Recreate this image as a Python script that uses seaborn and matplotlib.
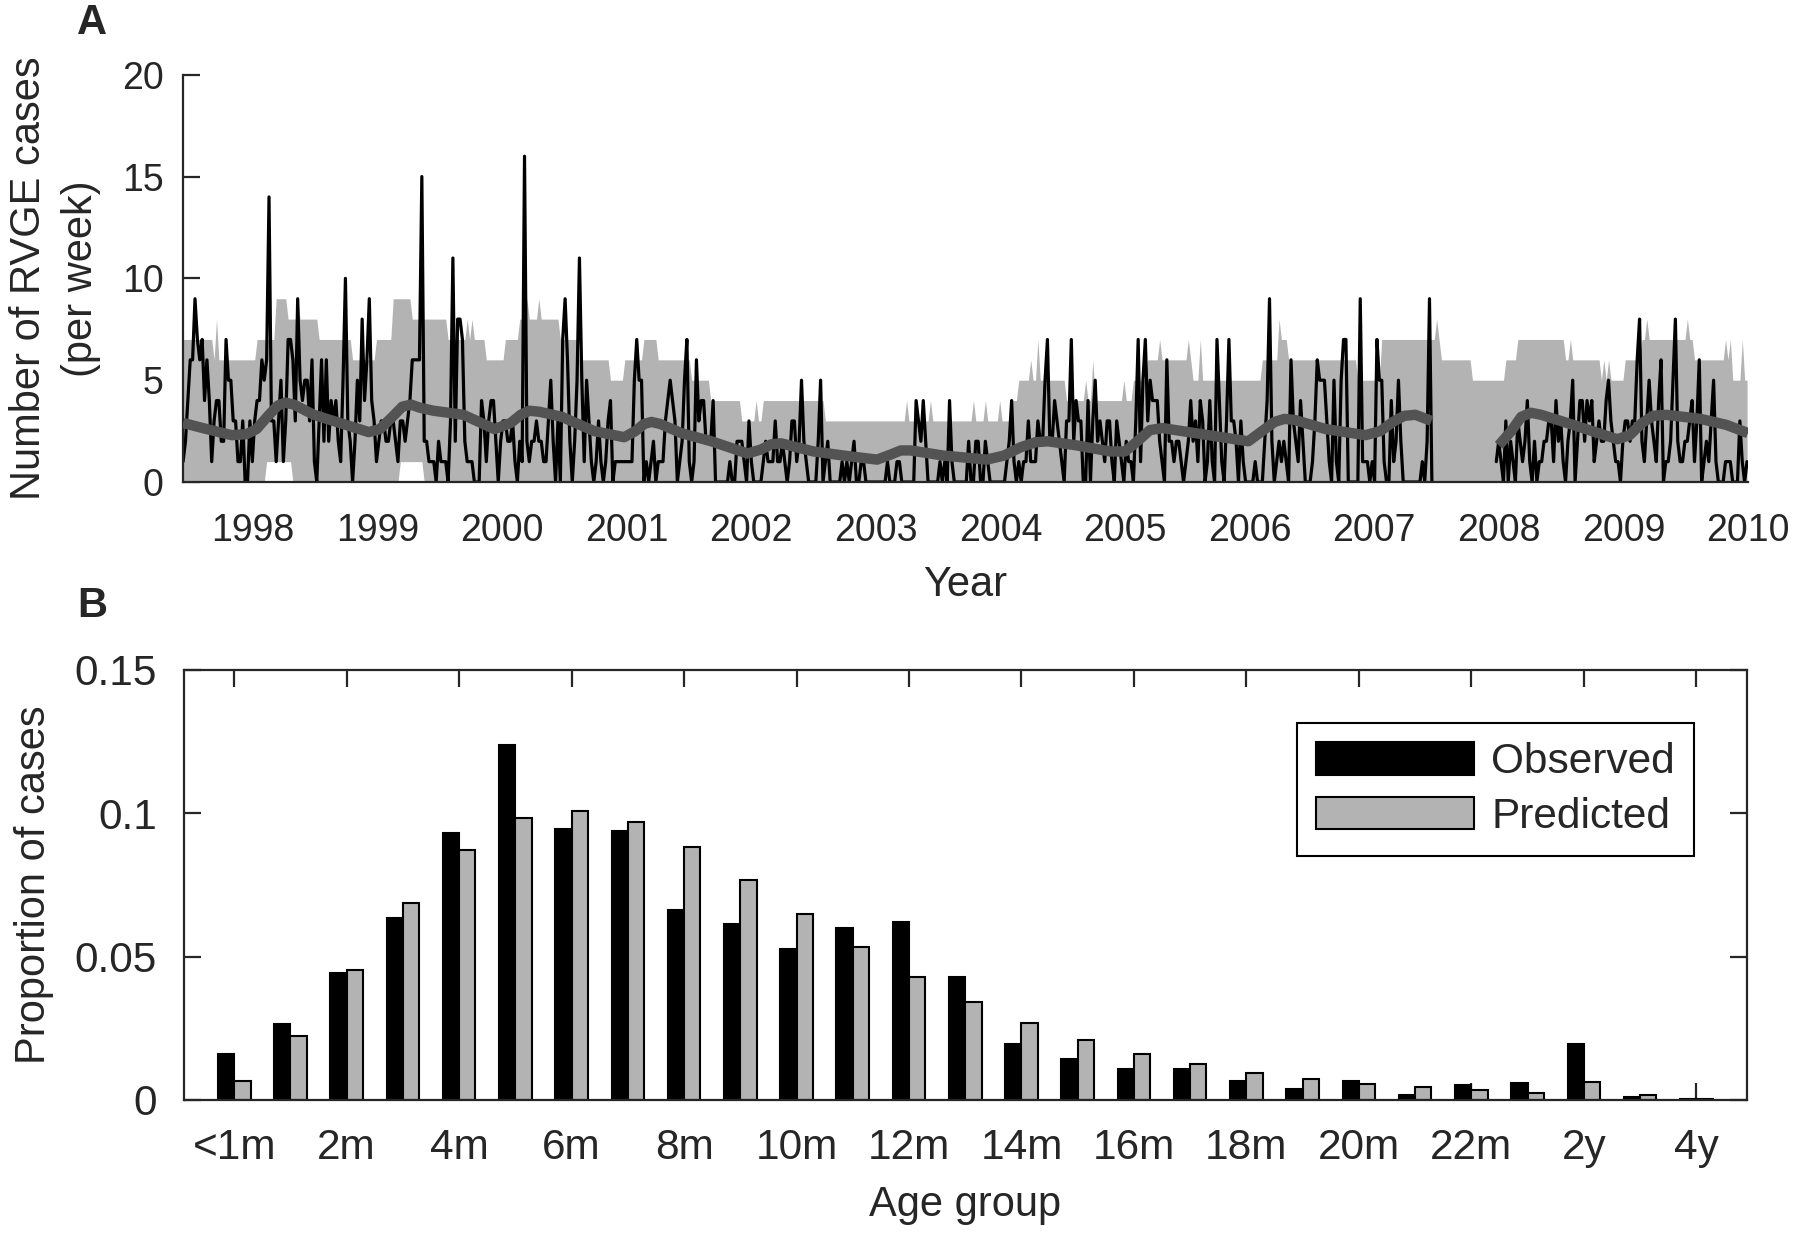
import numpy as np
import pandas as pd
import seaborn as sns
import matplotlib.pyplot as plt
from matplotlib.patches import Patch

# ---------------- Panel A data (weekly RVGE counts) ----------------
WEEKS_PER_YEAR = 52.18
obs1_start = 1997.44          # first week of first observed stretch
obs2_start = 2007.98          # first week after the data gap

obs_seg1 = [
    1, 2, 4, 6, 6, 9, 7, 6, 7, 4, 6, 4, 1, 3, 4, 4, 2, 2, 7, 5,
    5, 3, 3, 1, 1, 3, 0, 0, 3, 1, 3, 4, 4, 6, 5, 6, 14, 3, 3, 1,
    3, 5, 1, 3, 7, 7, 6, 3, 9, 5, 4, 5, 5, 3, 6, 1, 0, 3, 6, 2,
    6, 2, 4, 3, 4, 2, 1, 5, 10, 3, 2, 0, 2, 5, 3, 8, 4, 6, 9, 4,
    3, 1, 2, 3, 3, 2, 2, 3, 3, 2, 1, 3, 3, 2, 3, 4, 6, 6, 6, 6,
    15, 2, 2, 1, 1, 1, 0, 2, 1, 1, 1, 0, 3, 11, 2, 8, 8, 7, 2, 1,
    1, 1, 0, 0, 0, 4, 3, 1, 3, 4, 4, 2, 0,
    2, 3, 3, 2, 2, 3, 1, 0, 2, 1, 16, 2, 1, 2, 2, 3, 2, 2, 1, 1,
    3, 5, 2, 0, 3, 0, 7, 9, 6, 2, 0, 2, 5, 11, 5, 1, 5, 3, 1, 0,
    1, 3, 1, 0, 1, 3, 4, 0, 1, 1, 1, 1, 1, 1, 1, 1, 5, 7, 5, 5,
    0, 1, 0, 1, 2, 0, 1, 1, 1, 3, 4, 5, 4, 3, 0, 1, 2, 5, 7, 1,
    0, 1, 6, 3, 4, 4, 2, 2, 2, 4, 0, 0, 0, 0, 0, 0, 1, 0, 0, 2,
    2, 2, 1, 0, 3, 1, 0, 0, 0, 0, 1, 2, 1, 1, 1, 3, 1, 1, 2, 1,
    0, 1, 3, 3, 1, 2, 5, 2, 1, 0, 0,
    0, 0, 2, 5, 0, 1, 2, 0, 0, 0, 0, 0, 1, 0, 1, 0, 1, 2, 0, 0,
    1, 1, 0, 0, 0, 0, 0, 0, 0, 0, 0, 1, 0, 0, 0, 1, 1, 0, 0, 0,
    0, 0, 0, 4, 3, 2, 4, 2, 0, 0, 0, 0, 0, 1, 0, 1, 0, 4, 1, 0,
    0, 0, 0, 0, 0, 2, 0, 0, 2, 2, 0, 0, 2, 1, 0, 0, 0, 0, 0, 0,
    0, 1, 2, 4, 1, 0, 1, 0, 1, 1, 3, 1, 1, 1, 3, 2, 2, 5, 7, 2,
    2, 4, 3, 2, 1, 0, 3, 3, 7, 2, 4, 3, 3, 0, 0, 4, 0, 3, 5, 2,
    3, 2, 1, 3, 3, 1, 0, 3, 2, 1, 0, 2,
    1, 1, 0, 3, 7, 1, 5, 7, 3, 5, 4, 4, 4, 2, 1, 0, 6, 2, 2, 1,
    2, 2, 1, 0, 1, 2, 4, 2, 3, 1, 4, 3, 0, 1, 4, 1, 0, 7, 4, 1,
    0, 3, 7, 3, 3, 2, 0, 3, 1, 0, 0, 0, 0, 1, 0, 0, 0, 2, 4, 9,
    2, 0, 1, 2, 1, 2, 1, 0, 6, 3, 2, 1, 4, 2, 0, 0, 0, 1, 3, 6,
    5, 5, 5, 3, 1, 0, 5, 1, 0, 5, 7, 7, 0, 0, 0, 0, 0, 9, 1, 1,
    1, 0, 1, 0, 7, 5, 5, 1, 0, 0, 4, 1, 2, 5, 2, 0, 0, 0, 0, 0,
    0, 0, 0, 1, 0, 2, 9, 0,
]

obs_seg2 = [
    1, 2, 1, 0, 3, 0, 2, 1, 0, 3, 2, 1, 2, 4, 1, 0, 2, 0, 1, 1,
    2, 2, 3, 3, 1, 4, 2, 3, 1, 0, 2, 3, 5, 0, 2, 4, 4, 2, 4, 3,
    4, 1, 2, 3, 2, 2, 4, 5, 3, 2, 1, 1, 0, 2, 3, 3, 2, 3, 3, 6,
    8, 2, 1, 3, 5, 3, 2, 1, 4, 6, 0, 1, 1, 2, 5, 8, 2, 1, 1, 2,
    2, 3, 4, 1, 3, 6, 0, 1, 2, 1, 3, 5, 1, 0, 0, 0, 1, 1, 1, 0,
    0, 0, 3, 1, 0, 1,
]

# smoothed model mean (two stretches, same gap as the data)
mean1_year = [1997.44, 1997.63, 1997.83, 1997.95, 1998.03, 1998.13, 1998.20, 1998.26,
              1998.33, 1998.49, 1998.75, 1998.93, 1999.02, 1999.12, 1999.20, 1999.27,
              1999.34, 1999.45, 1999.69, 1999.94, 2000.07, 2000.15, 2000.22, 2000.30,
              2000.48, 2000.74, 2000.98, 2001.07, 2001.14, 2001.20, 2001.27, 2001.44,
              2001.68, 2001.97, 2002.08, 2002.16, 2002.24, 2002.50, 2002.74, 2003.01,
              2003.12, 2003.20, 2003.28, 2003.54, 2003.89, 2004.03, 2004.16, 2004.28,
              2004.38, 2004.61, 2004.88, 2005.00, 2005.10, 2005.20, 2005.30, 2005.67,
              2005.99, 2006.10, 2006.20, 2006.28, 2006.36, 2006.61, 2006.93, 2007.05,
              2007.15, 2007.24, 2007.33, 2007.46]
mean1_val = [2.9, 2.6, 2.3, 2.35, 2.6, 3.3, 3.75, 3.9,
             3.8, 3.3, 2.8, 2.45, 2.6, 3.2, 3.7, 3.8,
             3.65, 3.5, 3.3, 2.6, 2.9, 3.3, 3.5, 3.45,
             3.2, 2.5, 2.2, 2.5, 2.85, 2.95, 2.85, 2.4,
             2.0, 1.4, 1.6, 1.85, 1.9, 1.5, 1.3, 1.1,
             1.35, 1.55, 1.55, 1.3, 1.1, 1.3, 1.7, 1.95,
             2.0, 1.8, 1.5, 1.5, 2.0, 2.55, 2.65, 2.3,
             2.0, 2.5, 2.95, 3.1, 3.05, 2.6, 2.3, 2.5,
             2.95, 3.25, 3.3, 3.0]
mean2_year = [2008.00, 2008.10, 2008.18, 2008.26, 2008.34, 2008.60, 2008.95, 2009.05,
              2009.15, 2009.24, 2009.34, 2009.62, 2009.83, 2010.00]
mean2_val = [1.8, 2.5, 3.2, 3.4, 3.3, 2.8, 2.1, 2.3,
             2.9, 3.25, 3.3, 3.1, 2.8, 2.4]

# prediction band: step levels between change points, plus one-week spikes
upper_edges = [1997.44, 1997.67, 1998.03, 1998.18, 1998.27, 1998.53, 1998.80, 1998.99,
               1999.12, 1999.27, 1999.55, 1999.86, 2000.02, 2000.13, 2000.45, 2000.61,
               2000.86, 2000.98, 2001.12, 2001.25, 2001.52, 2001.67, 2001.92, 2002.08,
               2002.58, 2004.08, 2004.13, 2004.53, 2005.05, 2005.17, 2005.54, 2006.10,
               2006.23, 2006.31, 2006.85, 2007.06, 2007.53, 2007.77, 2008.04, 2008.14,
               2008.52, 2008.82, 2009.00, 2009.14, 2009.57, 2009.84, 2010.0]
upper_levels = [7, 6, 7, 9, 8, 7, 6, 7, 9, 8, 7, 6, 7, 8, 7, 6, 5, 6, 7, 6,
                5, 4, 3, 4, 3, 4, 5, 4, 5, 6, 5, 6, 7, 6, 5, 7, 6, 5, 6, 7,
                6, 5, 6, 7, 6, 5]
spike_years = [1997.70, 1998.36, 1999.72, 1999.75, 2000.20, 2000.29, 2000.86, 2001.01,
               2002.03, 2003.25, 2003.33, 2003.43, 2003.78, 2003.88, 2004.00, 2004.25,
               2004.30, 2004.68, 2004.74, 2005.00, 2005.28, 2005.51, 2005.60, 2006.24,
               2007.50, 2008.57, 2008.84, 2008.88, 2009.19, 2009.51, 2009.82, 2009.86,
               2009.95]
spike_levels = [8, 9, 8, 8, 9, 9, 6, 6,
                4, 4, 4, 4, 4, 4, 4, 6,
                7, 5, 6, 5, 7, 7, 7, 8,
                8, 7, 6, 6, 8, 8, 7, 7,
                7]
lower_edges = [1997.44, 1998.11, 1998.32, 1999.17, 1999.37, 2010.0]
lower_levels = [0, 1, 0, 1, 0]

year_ticks = list(range(1998, 2011))

# ---------------- Panel B data ----------------
age_groups = ["<1m"] + [f"{m}m" for m in range(1, 24)] + ["2y", "3y", "4y"]
observed = [0.0162, 0.0264, 0.0444, 0.0636, 0.0930, 0.1238, 0.0944, 0.0937, 0.0663,
            0.0615, 0.0526, 0.0601, 0.0621, 0.0429, 0.0197, 0.0142, 0.0109, 0.0108,
            0.0066, 0.0038, 0.0066, 0.0019, 0.0052, 0.0059, 0.0197, 0.0012, 0.0005]
predicted = [0.0065, 0.0223, 0.0452, 0.0686, 0.0872, 0.0983, 0.1008, 0.0969, 0.0881,
             0.0769, 0.0649, 0.0534, 0.0430, 0.0342, 0.0267, 0.0209, 0.0162, 0.0124,
             0.0095, 0.0074, 0.0057, 0.0045, 0.0034, 0.0023, 0.0063, 0.0016, 0.0004]

GREY = "#b3b3b3"
DARK = "#535353"

sns.set_style("ticks")
plt.rcParams["font.family"] = ["Liberation Sans", "DejaVu Sans"]
plt.rcParams["axes.linewidth"] = 1.6

fig = plt.figure(figsize=(18, 12.34), dpi=100)
axA = fig.add_axes([0.1017, 0.6094, 0.8694, 0.330])
axB = fig.add_axes([0.1020, 0.1086, 0.8685, 0.3485])

# ---- Panel A ----
week_t = obs1_start + np.arange(round((2010.0 - obs1_start) * WEEKS_PER_YEAR) + 1) / WEEKS_PER_YEAR
up_idx = np.clip(np.searchsorted(upper_edges, week_t, side="right") - 1, 0, len(upper_levels) - 1)
lo_idx = np.clip(np.searchsorted(lower_edges, week_t, side="right") - 1, 0, len(lower_levels) - 1)
band_hi = np.array(upper_levels, dtype=float)[up_idx]
band_lo = np.array(lower_levels, dtype=float)[lo_idx]
for sy, sl in zip(spike_years, spike_levels):
    k = int(np.argmin(np.abs(week_t - sy)))
    band_hi[k] = max(band_hi[k], sl)
axA.fill_between(week_t, band_lo, band_hi, color=GREY, lw=0, zorder=1)

t1 = obs1_start + np.arange(len(obs_seg1)) / WEEKS_PER_YEAR
t2 = obs2_start + np.arange(len(obs_seg2)) / WEEKS_PER_YEAR
sns.lineplot(x=t1, y=obs_seg1, color="black", lw=2.3, ax=axA, zorder=2)
sns.lineplot(x=t2, y=obs_seg2, color="black", lw=2.3, ax=axA, zorder=2)
for my, mv in [(mean1_year, mean1_val), (mean2_year, mean2_val)]:
    sns.lineplot(x=my, y=mv, color=DARK, lw=7.5, ax=axA, zorder=3,
                 solid_joinstyle="round", solid_capstyle="butt")

axA.set_xlim(obs1_start, 2010.0)
axA.set_ylim(0, 20)
axA.set_xticks(year_ticks)
axA.set_xticklabels([str(y) for y in year_ticks])
axA.set_yticks([0, 5, 10, 15, 20])
axA.tick_params(axis="x", length=0, pad=22, labelsize=27)
axA.tick_params(axis="y", direction="in", length=12, width=1.6, pad=14, labelsize=27)
sns.despine(ax=axA, top=True, right=True)
axA.set_xlabel("Year", fontsize=30)
axA.set_ylabel("Number of RVGE cases\n(per week)", fontsize=30, linespacing=1.4)
axA.xaxis.label.set_va("center")
axA.yaxis.label.set_va("center")
axA.xaxis.set_label_coords(0.5, -0.253)
axA.yaxis.set_label_coords(-0.082, 0.5)

# ---- Panel B ----
df_b = pd.DataFrame({
    "group": age_groups * 2,
    "kind": ["Observed"] * len(age_groups) + ["Predicted"] * len(age_groups),
    "value": observed + predicted,
})
sns.barplot(data=df_b, x="group", y="value", hue="kind", order=age_groups,
            hue_order=["Observed", "Predicted"],
            palette={"Observed": "black", "Predicted": GREY},
            width=0.58, edgecolor="black", linewidth=1.5, saturation=1,
            errorbar=None, legend=False, ax=axB)

axB.set_xlim(-0.9, 26.9)
axB.set_ylim(0, 0.15)
axB.set_xticks(range(0, len(age_groups), 2))
axB.set_xticklabels(age_groups[::2])
axB.set_yticks([0, 0.05, 0.1, 0.15])
axB.set_yticklabels(["0", "0.05", "0.1", "0.15"])
axB.tick_params(direction="in", length=12, width=1.6, top=True, right=True, labelsize=30.5)
axB.tick_params(axis="x", pad=20)
axB.tick_params(axis="y", pad=19)
for s in axB.spines.values():
    s.set_visible(True)
axB.set_xlabel("Age group", fontsize=30)
axB.set_ylabel("Proportion of cases", fontsize=30)
axB.xaxis.label.set_va("center")
axB.yaxis.label.set_va("center")
axB.xaxis.set_label_coords(0.5, -0.244)
axB.yaxis.set_label_coords(-0.0955, 0.5)

handles = [Patch(facecolor="black", edgecolor="black", lw=1.5, label="Observed"),
           Patch(facecolor=GREY, edgecolor="black", lw=1.5, label="Predicted")]
leg = axB.legend(handles=handles, loc="upper right", bbox_to_anchor=(0.9663, 0.8767),
                 borderaxespad=0, fontsize=30.5, handlelength=3.75, handleheight=0.8,
                 handletextpad=0.4, labelspacing=0.35, borderpad=0.45,
                 frameon=True, fancybox=False, framealpha=1, edgecolor="black")
leg.get_frame().set_linewidth(1.5)

fig.text(0.051, 0.981, "A", fontsize=30, fontweight="bold", ha="center", va="center")
fig.text(0.051, 0.509, "B", fontsize=30, fontweight="bold", ha="center", va="center")

fig.savefig("out.png", dpi=100)
